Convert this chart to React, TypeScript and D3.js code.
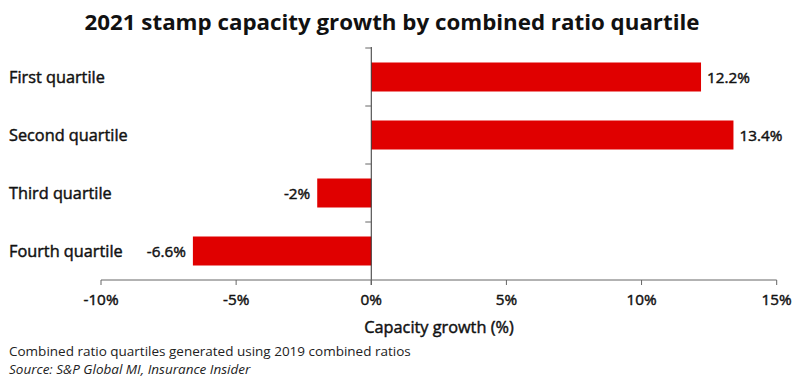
import React from "react";
import * as d3 from "d3";

const categories = ["First quartile", "Second quartile", "Third quartile", "Fourth quartile"];
const values = [12.2, 13.4, -2, -6.6];
const valueLabels = ["12.2%", "13.4%", "-2%", "-6.6%"];
const xTicks = [-10, -5, 0, 5, 10, 15];

const W = 800;
const H = 379;
const FONT = "'Open Sans', 'Noto Sans', sans-serif";
const MED = { stroke: "#111", strokeWidth: 0.45 };

export default function App() {
  const x = d3.scaleLinear().domain([-10, 15]).range([101, 776.7]);
  const y = d3.scaleBand<string>().domain(categories).range([48, 280]).paddingInner(0.5).paddingOuter(0.25);
  const x0 = x(0);
  const bandEdges = d3.range(categories.length + 1).map((i) => 48 + i * y.step());

  return (
    <svg width={W} height={H} style={{ position: "absolute", left: 0, top: 0 }} fontFamily={FONT}>
      <rect width={W} height={H} fill="#fff" />
      <text x={392} y={30} textAnchor="middle" fontSize={22} fontWeight={700} fill="#111" textLength={615} lengthAdjust="spacingAndGlyphs">
        2021 stamp capacity growth by combined ratio quartile
      </text>
      {categories.map((c, i) => {
        const v = values[i];
        const yy = y(c)!;
        const xa = x(Math.min(0, v));
        const xb = x(Math.max(0, v));
        return (
          <g key={c}>
            <rect x={xa} y={yy} width={xb - xa} height={y.bandwidth()} fill="#e00000" />
            <text x={9} y={yy + y.bandwidth() / 2 + 6} fontSize={16.3} fill="#111" {...MED}>{c}</text>
            <text
              x={v >= 0 ? xb + 6 : xa - 7}
              y={yy + y.bandwidth() / 2 + 5.5}
              fontSize={15.3}
              textAnchor={v >= 0 ? "start" : "end"}
              fill="#111"
              {...MED}
            >
              {valueLabels[i]}
            </text>
          </g>
        );
      })}
      {/* zero line */}
      <line x1={x0} x2={x0} y1={47} y2={285} stroke="#333" strokeWidth={1} />
      {bandEdges.slice(0, -1).map((e, i) => (
        <line key={i} x1={x0 - 6} x2={x0} y1={e} y2={e} stroke="#666" strokeWidth={1} />
      ))}
      {/* x axis */}
      <line x1={x(-10)} x2={x(15)} y1={280} y2={280} stroke="#666" strokeWidth={1} />
      {xTicks.map((t) => (
        <g key={t}>
          <line x1={x(t)} x2={x(t)} y1={280} y2={285} stroke="#666" strokeWidth={1} />
          <text x={x(t)} y={305} textAnchor="middle" fontSize={15.3} fill="#111" {...MED}>{t}%</text>
        </g>
      ))}
      <text x={439} y={333} textAnchor="middle" fontSize={16.3} fill="#111" {...MED}>Capacity growth (%)</text>
      <text x={9} y={355.5} fontSize={13.5} fill="#222">Combined ratio quartiles generated using 2019 combined ratios</text>
      <text x={9} y={374} fontSize={13.5} fontStyle="italic" fill="#222">Source: S&amp;P Global MI, Insurance Insider</text>
    </svg>
  );
}
